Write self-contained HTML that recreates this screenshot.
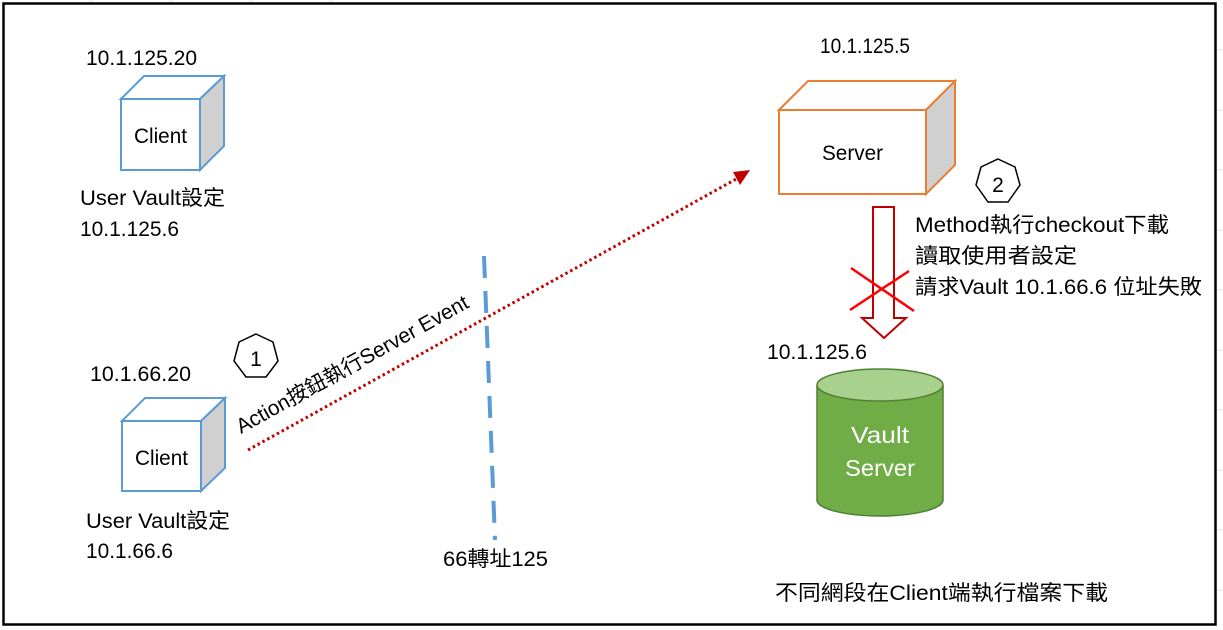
<!DOCTYPE html>
<html><head><meta charset="utf-8"><style>
body{margin:0;background:#fff;}
svg{display:block;font-family:"Liberation Sans","Noto Sans CJK TC",sans-serif;}
</style></head><body>
<svg width="1223" height="630" viewBox="0 0 1223 630" xmlns="http://www.w3.org/2000/svg">
<rect x="0" y="0" width="1223" height="630" fill="#fff"/>
<g stroke="#e3e3e3" stroke-width="1">
<line x1="91" y1="0" x2="91" y2="3"/><line x1="171" y1="0" x2="171" y2="3"/><line x1="251" y1="0" x2="251" y2="3"/><line x1="331" y1="0" x2="331" y2="3"/>
<line x1="1217" y1="50" x2="1223" y2="50"/><line x1="1217" y1="110" x2="1223" y2="110"/><line x1="1217" y1="170" x2="1223" y2="170"/><line x1="1217" y1="230" x2="1223" y2="230"/><line x1="1217" y1="290" x2="1223" y2="290"/><line x1="1217" y1="350" x2="1223" y2="350"/><line x1="1217" y1="410" x2="1223" y2="410"/><line x1="1217" y1="470" x2="1223" y2="470"/><line x1="1217" y1="530" x2="1223" y2="530"/><line x1="1217" y1="590" x2="1223" y2="590"/>
</g>
<rect x="3.5" y="3.5" width="1212" height="621" fill="none" stroke="#000" stroke-width="2.5"/>

<g font-size="21" lengthAdjust="spacingAndGlyphs">
<!-- Client 1 -->
<polygon points="121,99 144,76 224,76 200,99" fill="#fff" stroke="#5b9bd5" stroke-width="2"/>
<polygon points="200,99 224,76 224,146 200,170" fill="#d0d0d0" stroke="#5b9bd5" stroke-width="2"/>
<rect x="121" y="99" width="79" height="71" fill="#fff" stroke="#5b9bd5" stroke-width="2"/>
<text x="134" y="143" textLength="53" lengthAdjust="spacingAndGlyphs">Client</text>
<text x="86" y="65" textLength="111" lengthAdjust="spacingAndGlyphs">10.1.125.20</text>
<text x="80" y="205" textLength="145" lengthAdjust="spacingAndGlyphs">User Vault設定</text>
<text x="80" y="236" textLength="99" lengthAdjust="spacingAndGlyphs">10.1.125.6</text>

<!-- Client 2 -->
<polygon points="122,421 145,398 225,398 201,421" fill="#fff" stroke="#5b9bd5" stroke-width="2"/>
<polygon points="201,421 225,398 225,468 201,491" fill="#d0d0d0" stroke="#5b9bd5" stroke-width="2"/>
<rect x="122" y="421" width="79" height="70" fill="#fff" stroke="#5b9bd5" stroke-width="2"/>
<text x="135" y="465" textLength="53" lengthAdjust="spacingAndGlyphs">Client</text>
<text x="90" y="381" textLength="101" lengthAdjust="spacingAndGlyphs">10.1.66.20</text>
<text x="86" y="528" textLength="144" lengthAdjust="spacingAndGlyphs">User Vault設定</text>
<text x="86" y="558" textLength="87" lengthAdjust="spacingAndGlyphs">10.1.66.6</text>

<!-- heptagon 1 -->
<polygon points="256,334 273,342 278,361 266,377 246,377 234,361 239,342" fill="#fff" stroke="#000" stroke-width="1.5"/>
<text x="256" y="366" font-size="21" text-anchor="middle">1</text>

<!-- dotted arrow -->
<line x1="248" y1="450" x2="738" y2="178" stroke="#c00000" stroke-width="3" stroke-dasharray="2.5,3"/>
<polygon points="750,170 733,172 740,185" fill="#c00000"/>
<text x="0" y="0" textLength="262" lengthAdjust="spacingAndGlyphs" transform="translate(241,434) rotate(-29)">Action按鈕執行Server Event</text>

<!-- blue dashed -->
<line x1="484" y1="256" x2="495" y2="540" stroke="#5b9bd5" stroke-width="4" stroke-dasharray="22,13"/>
<text x="443" y="566" textLength="105" lengthAdjust="spacingAndGlyphs">66轉址125</text>

<!-- Server -->
<text x="820" y="53" textLength="90" lengthAdjust="spacingAndGlyphs">10.1.125.5</text>
<polygon points="779,110 808,81 955,81 926,110" fill="#fff" stroke="#ed7d31" stroke-width="2"/>
<polygon points="926,110 955,81 955,165 926,194" fill="#d0d0d0" stroke="#ed7d31" stroke-width="2"/>
<rect x="779" y="110" width="147" height="84" fill="#fff" stroke="#ed7d31" stroke-width="2"/>
<text x="822" y="160" textLength="61" lengthAdjust="spacingAndGlyphs">Server</text>

<!-- heptagon 2 -->
<polygon points="998,159 1015,167 1020,185 1008,202 988,202 976,185 981,167" fill="#fff" stroke="#000" stroke-width="1.5"/>
<text x="998" y="192" font-size="21" text-anchor="middle">2</text>

<text x="915" y="232" textLength="254" lengthAdjust="spacingAndGlyphs">Method執行checkout下載</text>
<text x="915" y="263" textLength="162" lengthAdjust="spacingAndGlyphs">讀取使用者設定</text>
<text x="915" y="294" textLength="287" lengthAdjust="spacingAndGlyphs">請求Vault 10.1.66.6 位址失敗</text>

<!-- hollow arrow -->
<polygon points="873,207 894,207 894,318 906,318 884,338 862,318 873,318" fill="#fff" stroke="#c00000" stroke-width="2"/>
<line x1="851" y1="268" x2="914" y2="311" stroke="#ff0000" stroke-width="2.5"/>
<line x1="850" y1="310" x2="909" y2="271" stroke="#ff0000" stroke-width="2.5"/>

<text x="767" y="359" textLength="100" lengthAdjust="spacingAndGlyphs">10.1.125.6</text>

<!-- cylinder -->
<path d="M817,385 L817,500 A63,16 0 0 0 943,500 L943,385" fill="#70ad47" stroke="#507e32" stroke-width="1.5"/>
<ellipse cx="880" cy="385" rx="63" ry="16" fill="#a9d18e" stroke="#507e32" stroke-width="1.5"/>
<text x="851" y="443" font-size="23" fill="#fff" textLength="58" lengthAdjust="spacingAndGlyphs">Vault</text>
<text x="845" y="476" font-size="23" fill="#fff" textLength="70" lengthAdjust="spacingAndGlyphs">Server</text>

<text x="775" y="600" textLength="333" lengthAdjust="spacingAndGlyphs">不同網段在Client端執行檔案下載</text>
</g>
</svg>
</body></html>
